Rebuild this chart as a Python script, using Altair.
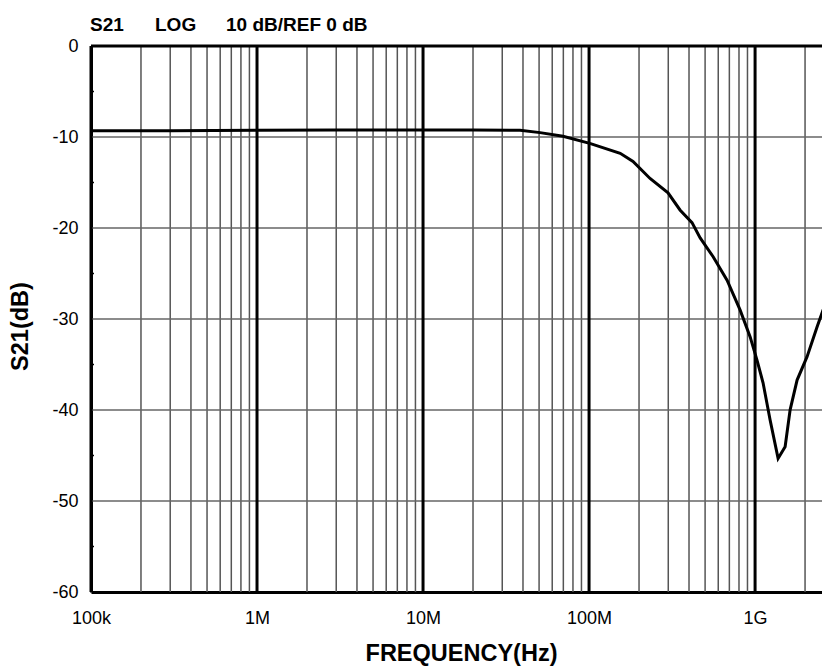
import altair as alt
import pandas as pd

# ---- data ----
freq_hz = [1e5, 3e5, 1e6, 3e6, 1e7, 2e7, 3.84e7, 5.07e7, 6.97e7, 1.01e8, 1.54e8,
           1.84e8, 2.33e8, 2.99e8, 3.53e8, 4.17e8, 4.67e8, 5.59e8, 6.78e8, 8.12e8,
           9.34e8, 1.028e9, 1.117e9, 1.231e9, 1.376e9, 1.517e9, 1.626e9, 1.791e9,
           2.057e9, 2.362e9, 2.568e9, 2.79e9]
s21_db = [-9.32, -9.32, -9.27, -9.22, -9.22, -9.22, -9.27, -9.52, -9.91, -10.70, -11.79,
          -12.68, -14.56, -16.14, -18.02, -19.41, -21.09, -23.16, -25.74, -29.0,
          -31.97, -34.54, -37.01, -41.07, -45.32, -44.03, -39.98, -36.71,
          -34.14, -30.88, -29.0, -28.11]

decades = [1e5, 1e6, 1e7, 1e8, 1e9]
decade_labels = ["100k", "1M", "10M", "100M", "1G"]
minor_mult = [2, 3, 4, 5, 6, 7, 8, 9]
x_max = 2.53e9
minor_freqs = [m * d for d in decades for m in minor_mult if m * d <= x_max]
y_ticks = [0, -10, -20, -30, -40, -50, -60]
y_grid = [-10, -20, -30, -40, -50]
y_minor = [-5, -15, -25, -35, -45, -55]
top_line = [0]
header = ["S21", "LOG", "10 dB/REF 0 dB"]

FONT = "Liberation Sans"
W, H = 731, 546

xs = alt.Scale(type="log", domain=[1e5, x_max], nice=False)
ys = alt.Scale(domain=[-60, 0], nice=False)

curve_df = pd.DataFrame({"f": freq_hz, "db": s21_db})
dec_df = pd.DataFrame({"f": decades})
minor_df = pd.DataFrame({"f": minor_freqs})
hgrid_df = pd.DataFrame({"db": y_grid})
yminor_df = pd.DataFrame({"db": y_minor})
top_df = pd.DataFrame({"db": top_line})

label_arr = "[" + ",".join(f"'{s}'" for s in decade_labels) + "]"
label_expr = f"{label_arr}[round(log(datum.value)/LN10) - 5]"

x_axis = alt.Axis(values=decades, labelExpr=label_expr, grid=False, labelFlush=False,
                  ticks=False, labelPadding=17, labelFontSize=18,
                  labelFont=FONT, labelColor="black", labelBaseline="top",
                  domainColor="black", domainWidth=3,
                  title="FREQUENCY(Hz)", titleFont=FONT, titleFontSize=23.5,
                  titleFontWeight="bold", titleColor="black",
                  titleBaseline="alphabetic", titleY=68, titleX=370)
y_axis = alt.Axis(values=y_ticks, grid=False, ticks=False, labelPadding=13,
                  labelExpr="datum.value == 0 ? '0' : '-' + abs(datum.value)",
                  labelFontSize=18, labelFont=FONT, labelColor="black", labelFlush=False,
                  domainColor="black", domainWidth=3,
                  title="S21(dB)", titleFont=FONT, titleFontSize=23.5,
                  titleFontWeight="bold", titleColor="black",
                  titleBaseline="alphabetic", titleAlign="center",
                  titleX=-64, titleY=280)

X = lambda: alt.X("f:Q", scale=xs, axis=x_axis, title="FREQUENCY(Hz)")
Y = lambda: alt.Y("db:Q", scale=ys, axis=y_axis, title="S21(dB)")

minor_rules = alt.Chart(minor_df).mark_rule(color="#555555", strokeWidth=1.5).encode(x=X())
hgrid = alt.Chart(hgrid_df).mark_rule(color="#666666", strokeWidth=1.5).encode(y=Y())
dec_rules = alt.Chart(dec_df).mark_rule(color="black", strokeWidth=3).encode(x=X())
top_rule = alt.Chart(top_df).mark_rule(color="black", strokeWidth=3).encode(y=Y())
yminor = alt.Chart(yminor_df).mark_rule(color="black", strokeWidth=1.5).encode(
    y=Y(), x=alt.value(0), x2=alt.value(3))

curve = alt.Chart(curve_df).mark_line(color="black", strokeWidth=3, clip=True).encode(
    x=X(), y=Y())

def head(txt, xpos):
    return alt.Chart(top_df).mark_text(align="left", baseline="alphabetic", fontSize=19,
                                       fontWeight="bold", font=FONT, color="black").encode(
        x=alt.value(xpos), y=alt.value(-15), text=alt.value(txt))

chart = alt.layer(
    minor_rules, hgrid, dec_rules, top_rule, yminor, curve,
    head(header[0], -1), head(header[1], 64), head(header[2], 135),
).properties(
    width=W, height=H,
    autosize=alt.AutoSizeParams(type="none"),
    padding={"left": 83, "top": 38, "right": 0, "bottom": 77},
).configure_view(stroke=None).configure(background="white")

chart.save("out.html", embed_options={"renderer": "svg", "actions": False})
